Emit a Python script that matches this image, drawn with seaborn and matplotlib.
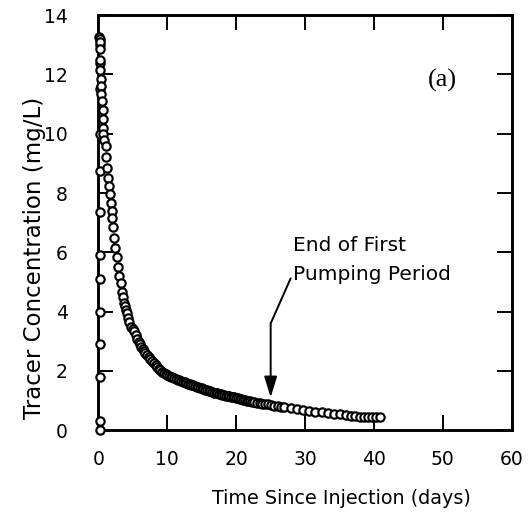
import matplotlib
matplotlib.use("Agg")
import matplotlib.pyplot as plt
import seaborn as sns
import pandas as pd

# Rising limb right after injection
rise_days = [0.25, 0.25, 0.25, 0.25, 0.25, 0.25, 0.25, 0.25, 0.25, 0.25, 0.2, 0.2, 0.2]
rise_conc = [0.0, 0.3, 1.8, 2.9, 4.0, 5.1, 5.9, 7.35, 8.75, 10.0, 11.5, 12.4, 13.0]

# Recession of tracer concentration
fall_days = [0.15, 0.2, 0.2, 0.25, 0.3, 0.3, 0.35, 0.35, 0.4, 0.5, 0.6, 0.6, 0.7, 0.65, 0.8,
             1.05, 1.1, 1.2, 1.35, 1.5, 1.65, 1.8, 1.9, 2.0, 2.1, 2.25, 2.45, 2.65, 2.8,
             3.05, 3.25, 3.4, 3.55, 3.7, 3.85, 4.0, 4.15, 4.25, 4.5, 4.8, 5.0, 5.1, 5.4,
             5.6, 5.85, 6.05, 6.2, 6.4, 6.6, 6.8, 7.0, 7.3, 7.55, 7.8, 8.05, 8.3, 8.55,
             8.8, 9.0, 9.25, 9.5, 9.75, 10.0, 10.25, 10.5, 10.75, 11.0, 11.25, 11.5,
             11.75, 12.0, 12.25, 12.5, 12.75, 13.0, 13.25, 13.5, 13.75, 14.0, 14.25,
             14.5, 14.75, 15.0, 15.25, 15.5, 15.75, 16.0, 16.25, 16.5, 16.75, 17.0,
             17.25, 17.5, 17.75, 18.0, 18.25, 18.5, 18.75, 19.0, 19.25, 19.5, 19.75,
             20.0, 20.25, 20.5, 20.75, 21.0, 21.25, 21.5, 21.75, 22.0, 22.3, 22.6,
             23.0, 23.4, 23.8, 24.2, 24.6, 25.0, 25.5, 26.0, 26.5, 27.0, 27.9,
             28.8, 29.7, 30.6, 31.5, 32.4, 33.3, 34.2, 35.1, 35.9, 36.6, 37.3, 37.9,
             38.5, 39.1, 39.7, 40.3, 40.9]
fall_conc = [13.25, 13.2, 13.1, 12.85, 12.5, 12.15, 11.85, 11.6, 11.35, 11.1, 10.8, 10.5,
             10.2, 10.0, 9.8, 9.6, 9.2, 8.85, 8.5, 8.25, 7.98, 7.65, 7.4, 7.15, 6.85,
             6.5, 6.15, 5.85, 5.5, 5.2, 4.95, 4.65, 4.5, 4.3, 4.2, 4.05, 3.95, 3.8, 3.65,
             3.47, 3.42, 3.35, 3.2, 3.08, 2.96, 2.9, 2.82, 2.75, 2.68, 2.6, 2.55, 2.46,
             2.4, 2.32, 2.26, 2.19, 2.13, 2.06, 2.02, 1.98, 1.93, 1.90, 1.87, 1.84,
             1.81, 1.78, 1.76, 1.73, 1.70, 1.68, 1.66, 1.63, 1.61, 1.59, 1.57, 1.55,
             1.53, 1.51, 1.49, 1.47, 1.45, 1.43, 1.41, 1.38, 1.36, 1.34, 1.33, 1.31,
             1.29, 1.27, 1.26, 1.24, 1.22, 1.21, 1.20, 1.19, 1.17, 1.16, 1.15, 1.13,
             1.12, 1.11, 1.09, 1.08, 1.06, 1.05, 1.03, 1.02, 1.00, 0.99, 0.98, 0.96,
             0.95, 0.93, 0.91, 0.90, 0.88, 0.87, 0.85, 0.83, 0.81, 0.79, 0.77, 0.74,
             0.71, 0.68, 0.66, 0.63, 0.61, 0.58, 0.56, 0.53, 0.51, 0.49, 0.47, 0.46,
             0.45, 0.45, 0.44, 0.44, 0.44]

x_ticks = [0, 10, 20, 30, 40, 50, 60]
y_ticks = [0, 2, 4, 6, 8, 10, 12, 14]

pump_end_day = 25.0

df = pd.DataFrame({
    "days": rise_days + fall_days,
    "conc": rise_conc + fall_conc,
})

sns.set_theme(style="ticks")
plt.rcParams["font.family"] = ["DejaVu Sans"]

fig = plt.figure(figsize=(5.32, 5.24), dpi=100)
ax = fig.add_axes([0.185, 0.179, 0.777, 0.792])

sns.scatterplot(data=df, x="days", y="conc", ax=ax, marker="o", s=36,
                color="white", edgecolor="black", linewidth=1.55, legend=False,
                zorder=3, clip_on=False)

ax.set_xlim(0, 60)
ax.set_ylim(0, 14)
ax.set_xticks(x_ticks)
ax.set_yticks(y_ticks)
ax.set_xticklabels([str(v) for v in x_ticks], fontsize=13.5)
ax.set_yticklabels([str(v) for v in y_ticks], fontsize=13.5)

for side in ["left", "right", "top", "bottom"]:
    ax.spines[side].set_visible(True)
    ax.spines[side].set_linewidth(2.1)
    ax.spines[side].set_color("black")

ax.tick_params(axis="both", which="major", direction="in", length=10.5, width=1.4,
               top=True, right=True, color="black", labelcolor="black")
ax.tick_params(axis="x", pad=14)
ax.tick_params(axis="y", pad=22)

ax.set_xlabel("Time Since Injection (days)", fontsize=13.8, color="black")
ax.set_ylabel("Tracer Concentration (mg/L)", fontsize=16.5, color="black")
ax.xaxis.set_label_coords(0.589, -0.142)
ax.yaxis.set_label_coords(-0.127, 0.414)

ax.text(49.9, 11.8, "(a)", family=["Liberation Serif", "DejaVu Serif"], fontsize=19,
        ha="center", va="center", color="black")

ax.text(28.2, 6.06, "End of First", fontsize=14.5, ha="left", va="baseline", color="black")
ax.text(28.2, 5.08, "Pumping Period", fontsize=14.5, ha="left", va="baseline", color="black")

# Leader line from the note down to the end of the first pumping period
ax.plot([27.9, pump_end_day], [5.12, 3.6], color="black", lw=1.4, zorder=4)
ax.annotate("", xy=(pump_end_day, 1.11), xytext=(pump_end_day, 3.6),
            arrowprops=dict(arrowstyle="-|>,head_length=0.9,head_width=0.28",
                            mutation_scale=14, color="black", lw=1.4,
                            shrinkA=0, shrinkB=0), zorder=4)

fig.savefig("out.png", dpi=100)
